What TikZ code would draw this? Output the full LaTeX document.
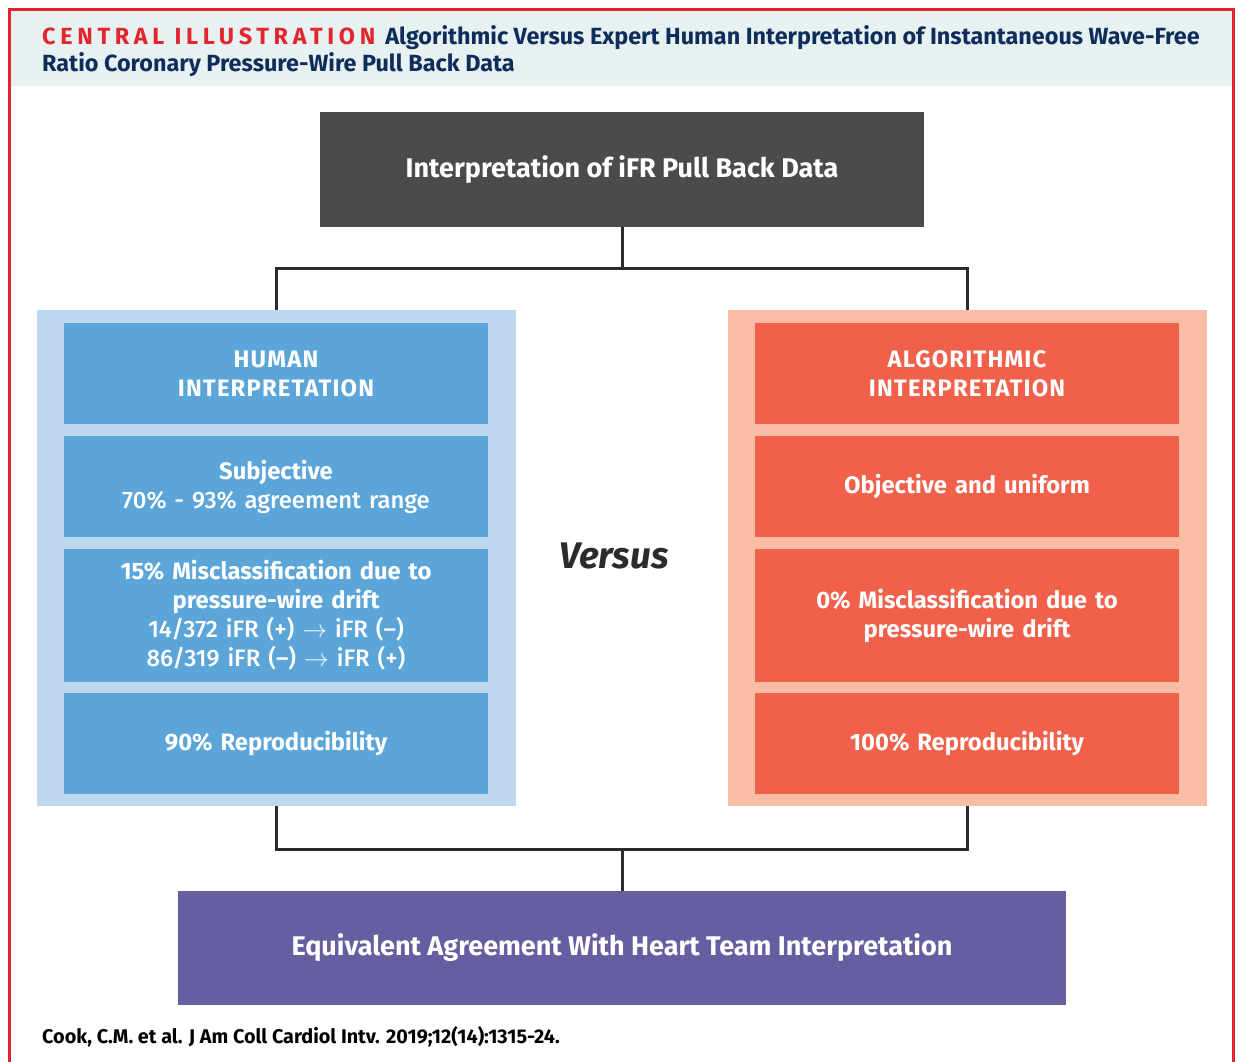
\documentclass[tikz,border=0pt]{standalone}
\usepackage{fontspec}
\setmainfont{Fira Sans}
\newfontfamily\medfont{Fira Sans Medium}
\usepackage{graphicx}
\definecolor{frame}{HTML}{E3262D}
\definecolor{hdrbg}{HTML}{E8F1F1}
\definecolor{navy}{HTML}{0F2D5A}
\definecolor{darkbox}{HTML}{4B4B4D}
\definecolor{bluelight}{HTML}{BDD7EE}
\definecolor{bluebox}{HTML}{5BA5D9}
\definecolor{redlight}{HTML}{F9BDA5}
\definecolor{redbox}{HTML}{F0604A}
\definecolor{purplebox}{HTML}{655EA0}
\definecolor{conn}{HTML}{2B2B2B}
\tikzset{
  panel/.style={draw=none, inner sep=0pt, minimum width=479pt, minimum height=496pt},
  cell/.style={draw=none, inner sep=0pt, minimum width=424pt, text width=415pt, align=center,
    text=white, font=\fontsize{23.8}{29}\selectfont\bfseries},
  bigbox/.style={draw=none, inner sep=0pt, text=white, align=center,
    font=\fontsize{27}{30}\selectfont\bfseries},
  connector/.style={draw=conn, line width=3pt}
}
\newcommand{\capsp}[1]{{\addfontfeature{LetterSpace=5}#1}}
\newcommand{\reg}[1]{{\medfont\mdseries #1}}
\begin{document}
\begin{tikzpicture}[x=1pt,y=-1pt]
\useasboundingbox (0,0) rectangle (1238,1061);
% header
\fill[hdrbg] (11,11) rectangle (1232,86);
\draw[frame, line width=3.5pt] (9.5,1070) -- (9.5,9.5) -- (1233.5,9.5) -- (1233.5,1070);
\node[anchor=base west, inner sep=0pt, font=\fontsize{23.4}{26}\selectfont\bfseries] (t1) at (42,44)
  {{\addfontfeature{LetterSpace=20}\color{frame}CENTRAL ILLUSTRATION}\hspace{10pt}{\color{navy}Algorithmic Versus Expert Human Interpretation of Instantaneous Wave-Free}};
\node[anchor=base west, inner sep=0pt, font=\fontsize{23.4}{26}\selectfont\bfseries, text=navy] (t2) at (42,71)
  {Ratio Coronary Pressure-Wire Pull Back Data};
% top box
\node[bigbox, fill=darkbox, minimum width=604pt, minimum height=115pt] (top) at (622,169.5)
  {Interpretation of iFR Pull Back Data};
% panels
\node[panel, fill=bluelight] (lp) at (276,558) {};
\node[panel, fill=redlight] (rp) at (967,558) {};
% left cells
\node[cell, fill=bluebox, minimum height=101pt] (l1) at (276,373.5) {\capsp{HUMAN}\\\capsp{INTERPRETATION}};
\node[cell, fill=bluebox, minimum height=101pt] (l2) at (276,486.5) {Subjective\\\reg{70\% - 93\% agreement range}};
\node[cell, fill=bluebox, minimum height=133pt] (l3) at (276,615.5)
  {15\% Misclassification due to\\pressure-wire drift\\\reg{14/372 iFR (+) $\rightarrow$ iFR (–)}\\\reg{86/319 iFR (–) $\rightarrow$ iFR (+)}};
\node[cell, fill=bluebox, minimum height=101pt] (l4) at (276,743.5) {90\% Reproducibility};
% right cells
\node[cell, fill=redbox, minimum height=101pt] (r1) at (967,373.5) {\capsp{ALGORITHMIC}\\\capsp{INTERPRETATION}};
\node[cell, fill=redbox, minimum height=101pt] (r2) at (967,486.5) {Objective and uniform};
\node[cell, fill=redbox, minimum height=133pt] (r3) at (967,615.5) {0\% Misclassification due to\\pressure-wire drift};
\node[cell, fill=redbox, minimum height=101pt] (r4) at (967,743.5) {100\% Reproducibility};
% versus
\node[font=\fontsize{37}{40}\selectfont\bfseries\itshape, text=conn] (vs) at (614,556) {Versus};
% bottom box
\node[bigbox, fill=purplebox, minimum width=888pt, minimum height=114pt] (bot) at (622,948)
  {Equivalent Agreement With Heart Team Interpretation};
% connectors
\coordinate (jt) at (622,268);
\coordinate (jb) at (622,849);
\draw[connector] (top.south) -- (jt);
\draw[connector] (lp.north) |- (jt) -| (rp.north);
\draw[connector] (lp.south) |- (jb) -| (rp.south);
\draw[connector] (jb) -- (bot.north);
% footer
\node[anchor=base west, inner sep=0pt, font=\fontsize{19.8}{22}\selectfont\bfseries] (foot) at (42,1043)
  {Cook, C.M. et al. J Am Coll Cardiol Intv. 2019;12(14):1315-24.};
\end{tikzpicture}
\end{document}
